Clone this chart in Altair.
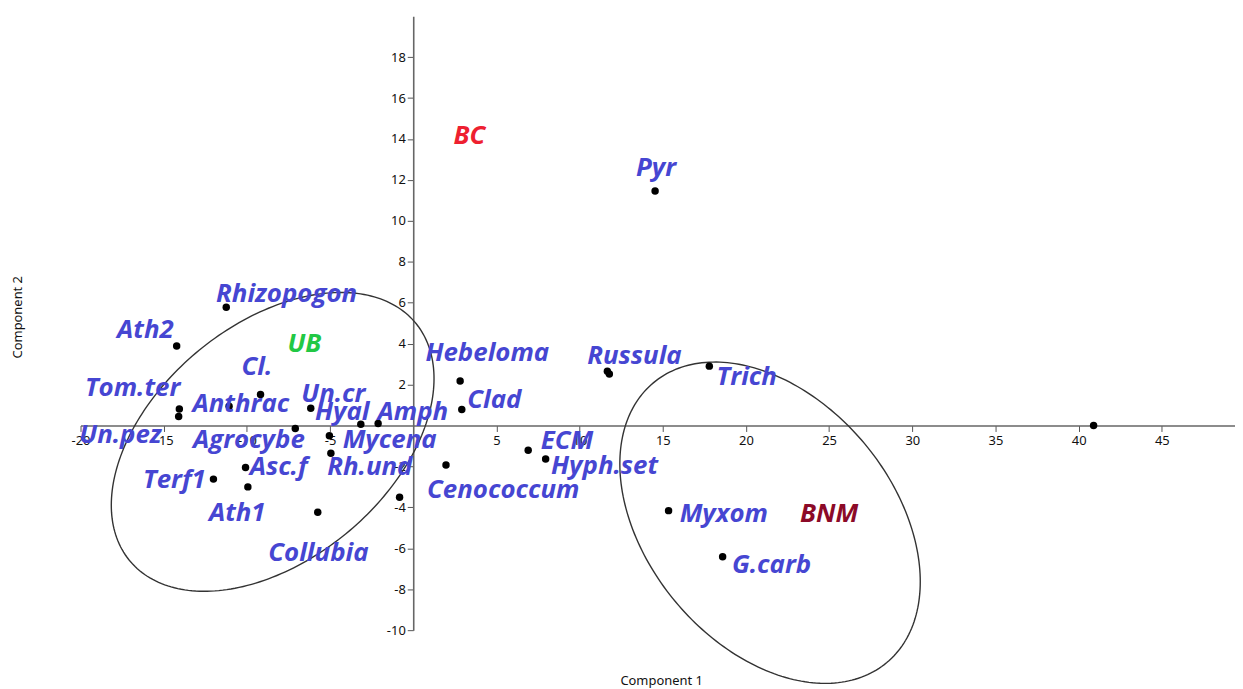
import altair as alt
import numpy as np
import pandas as pd

# ---- point data (Component 1, Component 2) ----
point_x = [14.54, -11.24, -14.22, -9.18, -14.06, -14.10, -11.07, -6.16, -7.09, -3.15,
           -2.11, -5.04, -4.95, -10.08, -12.01, -9.94, -5.74, -0.82, 1.97, 2.82,
           2.92, 6.91, 7.96, 11.67, 11.79, 17.80, 15.35, 18.60, 40.90]
point_y = [11.46, 5.78, 3.88, 1.52, 0.81, 0.44, 0.94, 0.84, -0.15, 0.06,
           0.10, -0.50, -1.36, -2.05, -2.62, -3.00, -4.24, -3.51, -1.93, 2.17,
           0.78, -1.21, -1.64, 2.65, 2.52, 2.90, -4.16, -6.41, 0.00]

# ---- taxon labels ----
label_text = ["Pyr", "Rhizopogon", "Ath2", "Cl.", "Tom.ter", "Un.pez", "Anthrac", "Un.cr",
              "Agrocybe", "Hyal", "Amph", "Mycena", "Asc.f", "Rh.und", "Terf1", "Ath1",
              "Collubia", "Hebeloma", "Clad", "ECM", "Hyph.set", "Cenococcum", "Russula",
              "Trich", "Myxom", "G.carb"]
label_x = [14.6, -7.61, -16.1, -9.4, -16.87, -17.6, -10.36, -4.8,
           -9.88, -4.27, -0.02, -1.42, -8.09, -2.61, -14.36, -10.58,
           -5.7, 4.45, 4.87, 9.24, 11.5, 5.41, 13.3,
           20.05, 18.67, 21.54]
label_y = [12.57, 6.41, 4.66, 2.86, 1.84, -0.45, 1.07, 1.55,
           -0.71, 0.66, 0.66, -0.71, -2.05, -2.05, -2.65, -4.27,
           -6.21, 3.54, 1.26, -0.78, -1.99, -3.16, 3.40,
           2.38, -4.32, -6.80]

# ---- group labels ----
group_text = ["BC", "UB", "BNM"]
group_x = [3.38, -6.54, 25.0]
group_y = [14.13, 3.98, -4.32]
group_color = ["#ee2030", "#22c844", "#8c0a28"]

# ---- ellipses (centre, spread in x, spread in y, covariance term) ----
ell_name = ["UB", "BNM"]
ell_cx = [-8.45, 21.45]
ell_cy = [-0.8, -4.75]
ell_sx = [9.7, 9.03]
ell_sy = [7.3, 7.85]
ell_cxy = [30.0, -26.0]

x_ticks = [-20, -15, -10, -5, 5, 10, 15, 20, 25, 30, 35, 40, 45]
y_ticks = [-10, -8, -6, -4, -2, 2, 4, 6, 8, 10, 12, 14, 16, 18]

X_MIN, X_MAX = -20, 49.4
Y_MIN, Y_MAX = -10, 20
W, H = 1162, 618

pts = pd.DataFrame({"x": point_x, "y": point_y})
labs = pd.DataFrame({"x": label_x, "y": label_y, "t": label_text})
grps = pd.DataFrame({"x": group_x, "y": group_y, "t": group_text, "c": group_color})

rows = []
tt = np.linspace(0, 2 * np.pi, 241)
for n, cx, cy, sx, sy, cxy in zip(ell_name, ell_cx, ell_cy, ell_sx, ell_sy, ell_cxy):
    k = cxy / sx
    r = np.sqrt(sy ** 2 - k ** 2)
    for i, t in enumerate(tt):
        rows.append({"g": n, "i": i,
                     "x": cx + sx * np.cos(t),
                     "y": cy + k * np.cos(t) + r * np.sin(t)})
ell = pd.DataFrame(rows)

off_x = -(0 - Y_MIN) / (Y_MAX - Y_MIN) * H
off_y = -(0 - X_MIN) / (X_MAX - X_MIN) * W

axis_common = dict(grid=False, title=None, domainColor="#666666", domainWidth=1.6,
                   tickColor="#555555", tickWidth=1, tickSize=6,
                   labelFont="Noto Sans", labelFontSize=13, labelColor="#111111",
                   labelOverlap=False, labelFlush=False, labelExpr="'' + datum.value")

XE = alt.X("x:Q", scale=alt.Scale(domain=[X_MIN, X_MAX], nice=False, zero=False),
           axis=alt.Axis(values=x_ticks, orient="bottom", offset=off_x, labelPadding=3,
                         **axis_common))
YE = alt.Y("y:Q", scale=alt.Scale(domain=[Y_MIN, Y_MAX], nice=False, zero=False),
           axis=alt.Axis(values=y_ticks, orient="left", offset=off_y, labelPadding=2,
                         **axis_common))

ellipses = alt.Chart(ell).mark_line(color="#333333", strokeWidth=1.4, clip=False).encode(
    x=XE, y=YE, detail="g:N", order="i:Q")

dots = alt.Chart(pts).mark_circle(color="black", size=56, opacity=1).encode(x=XE, y=YE)

labels = alt.Chart(labs).mark_text(
    font="Open Sans", fontSize=26, fontWeight="bold", fontStyle="italic",
    color="#4646d2", align="center", baseline="middle").encode(x=XE, y=YE, text="t:N")

groups = alt.Chart(grps).mark_text(
    font="Open Sans", fontSize=26, fontWeight="bold", fontStyle="italic",
    align="center", baseline="middle").encode(
    x=XE, y=YE, text="t:N", color=alt.Color("c:N", scale=None))

title_df = pd.DataFrame({"t": ["Component 1"]})
xtitle = alt.Chart(title_df).mark_text(font="Noto Sans", fontSize=13, color="#111111",
                                       align="center", baseline="middle").encode(
    x=alt.value(W * (0 - X_MIN) / (X_MAX - X_MIN) + 250), y=alt.value(H + 51), text="t:N")
ytitle = alt.Chart(pd.DataFrame({"t": ["Component 2"]})).mark_text(
    font="Noto Sans", fontSize=13, color="#111111", align="center", baseline="middle",
    angle=270).encode(x=alt.value(-63), y=alt.value(303), text="t:N")

chart = alt.layer(ellipses, dots, labels, groups, xtitle, ytitle).properties(
    width=W, height=H,
    background="white",
    autosize=alt.AutoSizeParams(type="none"),
    padding={"left": 73, "top": 6, "right": 0, "bottom": 57},
).configure_view(strokeWidth=0)

chart.save("out.html", embed_options={"renderer": "svg", "actions": False})
